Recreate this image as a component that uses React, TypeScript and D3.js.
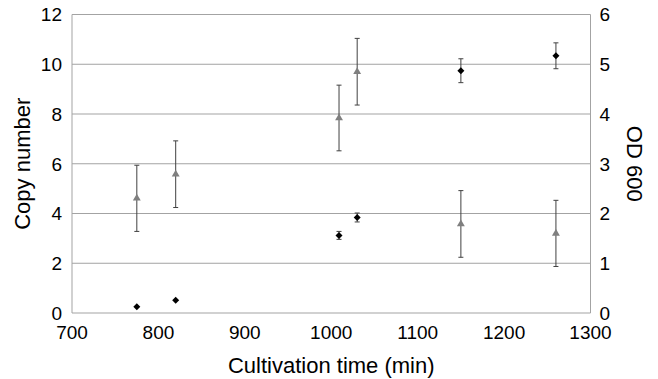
import { useRef, useEffect } from 'react';
import * as d3 from 'd3';

// Sampling times (min)
const times = [775, 820, 1009, 1030, 1150, 1260];

// Copy number (left axis) with error
const copyNumber = [4.61, 5.58, 7.84, 9.7, 3.58, 3.2];
const copyNumberErr = [1.33, 1.34, 1.32, 1.34, 1.34, 1.33];

// OD 600 (right axis) with error
const od600 = [0.125, 0.255, 1.56, 1.92, 4.87, 5.17];
const od600Err = [0, 0, 0.08, 0.09, 0.24, 0.26];

const xTicks = [700, 800, 900, 1000, 1100, 1200, 1300];
const leftTicks = [0, 2, 4, 6, 8, 10, 12];
const rightTicks = [0, 1, 2, 3, 4, 5, 6];

const FONT = 'Liberation Sans, Arial, sans-serif';

export default function App() {
  const ref = useRef<SVGSVGElement>(null);

  useEffect(() => {
    if (!ref.current) return;
    const svg = d3.select(ref.current);
    svg.selectAll('*').remove();

    const left = 72;
    const right = 590.5;
    const top = 14.5;
    const bottom = 313;

    const x = d3.scaleLinear().domain([700, 1300]).range([left, right]);
    const yL = d3.scaleLinear().domain([0, 12]).range([bottom, top]);
    const yR = d3.scaleLinear().domain([0, 6]).range([bottom, top]);

    // Gridlines
    svg
      .append('g')
      .selectAll('line')
      .data(leftTicks.slice(1))
      .join('line')
      .attr('x1', left)
      .attr('x2', right)
      .attr('y1', d => yL(d))
      .attr('y2', d => yL(d))
      .attr('stroke', '#a3a3a3')
      .attr('stroke-width', 1);

    // Axis lines
    const axisColor = '#a3a3a3';
    svg.append('line').attr('x1', left).attr('x2', left).attr('y1', top).attr('y2', bottom).attr('stroke', axisColor);
    svg.append('line').attr('x1', right).attr('x2', right).attr('y1', top).attr('y2', bottom).attr('stroke', axisColor);
    svg.append('line').attr('x1', left).attr('x2', right).attr('y1', bottom).attr('y2', bottom).attr('stroke', axisColor);

    // Tick labels
    svg
      .append('g')
      .selectAll('text')
      .data(leftTicks)
      .join('text')
      .attr('x', left - 10)
      .attr('y', d => yL(d))
      .attr('dy', '0.36em')
      .attr('text-anchor', 'end')
      .style('font-family', FONT)
      .style('font-size', '19px')
      .style('fill', '#000')
      .text(d => d);

    svg
      .append('g')
      .selectAll('text')
      .data(rightTicks)
      .join('text')
      .attr('x', right + 9)
      .attr('y', d => yR(d))
      .attr('dy', '0.36em')
      .attr('text-anchor', 'start')
      .style('font-family', FONT)
      .style('font-size', '19px')
      .style('fill', '#000')
      .text(d => d);

    svg
      .append('g')
      .selectAll('text')
      .data(xTicks)
      .join('text')
      .attr('x', d => x(d))
      .attr('y', bottom + 26)
      .attr('text-anchor', 'middle')
      .style('font-family', FONT)
      .style('font-size', '19px')
      .style('fill', '#000')
      .text(d => d);

    // Axis titles
    svg
      .append('text')
      .attr('transform', `translate(30,${(top + bottom) / 2}) rotate(-90)`)
      .attr('text-anchor', 'middle')
      .style('font-family', FONT)
      .style('font-size', '22px')
      .text('Copy number');

    svg
      .append('text')
      .attr('transform', `translate(627,${(top + bottom) / 2}) rotate(90)`)
      .attr('text-anchor', 'middle')
      .style('font-family', FONT)
      .style('font-size', '22px')
      .text('OD 600');

    svg
      .append('text')
      .attr('x', (left + right) / 2)
      .attr('y', 373)
      .attr('text-anchor', 'middle')
      .style('font-family', FONT)
      .style('font-size', '22px')
      .text('Cultivation time (min)');

    // Error bars helper
    const errBar = (cx: number, y1: number, y2: number) => {
      const g = svg.append('g').attr('stroke', '#404040').attr('stroke-width', 1);
      g.append('line').attr('x1', cx).attr('x2', cx).attr('y1', y1).attr('y2', y2);
      g.append('line').attr('x1', cx - 2.5).attr('x2', cx + 2.5).attr('y1', y1).attr('y2', y1);
      g.append('line').attr('x1', cx - 2.5).attr('x2', cx + 2.5).attr('y1', y2).attr('y2', y2);
    };

    // Copy number: gray triangles
    times.forEach((t, i) => {
      errBar(x(t), yL(copyNumber[i] + copyNumberErr[i]), yL(copyNumber[i] - copyNumberErr[i]));
    });
    svg
      .append('g')
      .selectAll('path')
      .data(times)
      .join('path')
      .attr('d', d3.symbol(d3.symbolTriangle, 27)())
      .attr('transform', (d, i) => `translate(${x(d)},${yL(copyNumber[i])})`)
      .attr('fill', '#7f7f7f');

    // OD 600: black diamonds
    times.forEach((t, i) => {
      if (od600Err[i] > 0) errBar(x(t), yR(od600[i] + od600Err[i]), yR(od600[i] - od600Err[i]));
    });
    svg
      .append('g')
      .selectAll('path')
      .data(times)
      .join('path')
      .attr('d', 'M0,-3.5L3.5,0L0,3.5L-3.5,0Z')
      .attr('transform', (d, i) => `translate(${x(d)},${yR(od600[i])})`)
      .attr('fill', '#000');
  }, []);

  return (
    <svg
      ref={ref}
      width={658}
      height={379}
      style={{ position: 'absolute', left: 0, top: 0, background: '#fff' }}
    />
  );
}
